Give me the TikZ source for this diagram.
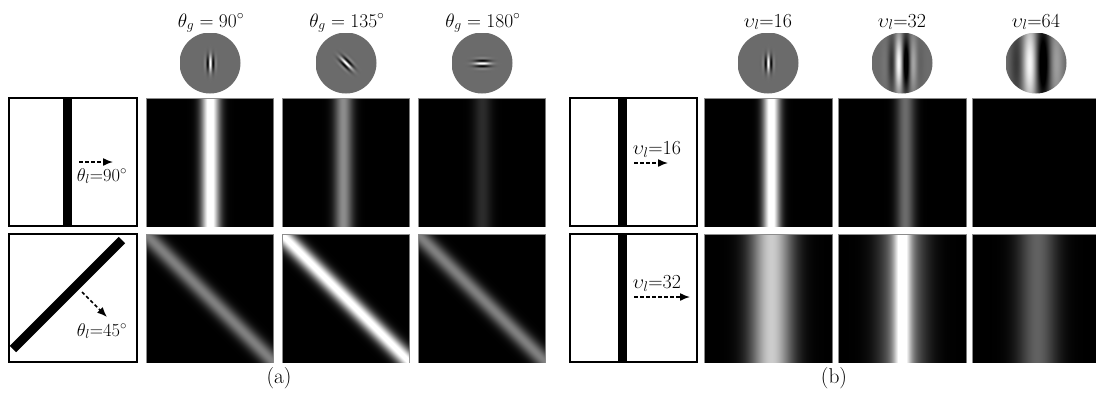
\RequirePackage{fix-cm}
\documentclass[tikz,border=0pt]{standalone}
\usepackage{fontspec}
\usetikzlibrary{arrows.meta}

% response to a vertical edge: name, width, height, centre, peak, sigma
\newcommand{\barshading}[6]{%
  \pgfdeclarefunctionalshading{#1}{\pgfpointorigin}{\pgfpoint{#2bp}{#3bp}}{}{%
    pop #4 sub dup mul 2 div #6 #6 mul div neg 2.71828 exch exp #5 mul dup dup}}
% response to the 45 degree edge: name, width, height, offset, peak, sigma
\newcommand{\diagshading}[6]{%
  \pgfdeclarefunctionalshading{#1}{\pgfpointorigin}{\pgfpoint{#2bp}{#3bp}}{}{%
    add #4 sub dup mul 4 div #6 #6 mul div neg 2.71828 exch exp #5 mul dup dup}}
% gabor kernel on grey: name, cos, sin, wavelength, sigma across, sigma along, carrier (sin/cos)
\newcommand{\gaborshading}[7]{%
  \pgfdeclarefunctionalshading{#1}{\pgfpoint{-31bp}{-31bp}}{\pgfpoint{31bp}{31bp}}{}{%
    2 copy #3 mul exch #2 mul add 3 1 roll #2 mul exch #3 mul sub
    dup mul 2 div #6 #6 mul div neg exch dup
    dup mul 2 div #5 #5 mul div neg 3 -1 roll add
    2.71828 exch exp exch 360 mul #4 div #7 mul 0.62 mul 0.42 add dup dup}}

\gaborshading{g90}{1}{0}{6}{3}{5.5}{cos}
\gaborshading{g135}{0.7071}{0.7071}{6}{3}{5.5}{cos}
\gaborshading{g180}{0}{1}{6}{3}{5.5}{cos}
\gaborshading{g32}{1}{0}{16}{8}{20}{sin neg}
\gaborshading{g64}{1}{0}{30}{14}{30}{sin neg}

\barshading{ra11}{127}{128}{64}{1.1}{6.5}
\barshading{ra12}{127}{128}{61}{0.55}{6.5}
\barshading{ra13}{127}{128}{64}{0.17}{6.5}
\diagshading{ra21}{127}{128}{127.5}{0.5}{6}
\diagshading{ra22}{127}{128}{127.5}{1.05}{6}
\diagshading{ra23}{127}{128}{127.5}{0.5}{6}

\barshading{rb11}{128}{128}{67}{1.1}{6}
\barshading{rb12}{128}{128}{67}{0.42}{6.5}
\barshading{rb13}{124}{128}{64}{0}{6}
\barshading{rb21}{128}{128}{67}{0.8}{15}
% two gaussians, bright core on wide shoulders
\pgfdeclarefunctionalshading{rb22}{\pgfpointorigin}{\pgfpoint{128bp}{128bp}}{}{%
  pop 64 sub dup mul dup 512 div neg 2.71828 exch exp 0.5 mul
  exch 72 div neg 2.71828 exch exp 0.65 mul add dup dup}
\barshading{rb23}{124}{128}{65}{0.38}{14}

\begin{document}
\begin{tikzpicture}[x=1bp,y=-1bp,font=\fontsize{18.5}{22}\selectfont]
  \tikzstyle{stim}=[draw=black,line width=2.4bp,fill=white]
  \tikzstyle{resp}=[inner sep=0pt,outer sep=0pt,anchor=north west,draw=black!45,line width=0.8bp]
  \tikzstyle{filter}=[circle,inner sep=0pt,minimum size=61bp]
  \tikzstyle{motion}=[line width=1.5bp,dash pattern=on 3.5bp off 2.5bp,-{Latex[length=10bp,width=8bp]}]
  \tikzstyle{head}=[anchor=base,font=\fontsize{19.5}{23}\selectfont]
  \tikzstyle{speed}=[font=\fontsize{20}{24}\selectfont]
  \tikzstyle{panel}=[font=\fontsize{21.5}{25}\selectfont]

  \useasboundingbox (0,0) rectangle (1096,394);

  % (a) orientation
  \node[head] (ta1) at (211,27) {$\theta_g = 90^\circ$};
  \node[head] (ta2) at (347,27) {$\theta_g = 135^\circ$};
  \node[head] (ta3) at (483,27) {$\theta_g = 180^\circ$};

  \node[filter,path picture={\node at (path picture bounding box.center) {\pgfuseshading{g90}};}]  (ga1) at (210,63) {};
  \node[filter,path picture={\node at (path picture bounding box.center) {\pgfuseshading{g135}};}] (ga2) at (346,63) {};
  \node[filter,path picture={\node at (path picture bounding box.center) {\pgfuseshading{g180}};}] (ga3) at (482,63) {};

  \draw[stim] (9,98) rectangle (137,226);
  \fill (63,98) rectangle (72,226);
  \node (la1) at (102,176) {$\theta_l$=90$^\circ$};
  \coordinate (ma1) at (79,162);
  \coordinate (ma1e) at (113,162);
  \draw[motion] (ma1) -- (ma1e);

  \draw[stim] (9,234) rectangle (137,362);
  \draw[line width=9bp] (13,349) -- (122,240);
  \node (la2) at (102,331) {$\theta_l$=45$^\circ$};
  \coordinate (ma2) at (82,292);
  \coordinate (ma2e) at (107,317);
  \draw[motion] (ma2) -- (ma2e);

  \node[resp] (ra11) at (146,98)  {\pgfuseshading{ra11}};
  \node[resp] (ra12) at (282,98)  {\pgfuseshading{ra12}};
  \node[resp] (ra13) at (418,98)  {\pgfuseshading{ra13}};
  \node[resp] (ra21) at (146,234) {\pgfuseshading{ra21}};
  \node[resp] (ra22) at (282,234) {\pgfuseshading{ra22}};
  \node[resp] (ra23) at (418,234) {\pgfuseshading{ra23}};

  \node[panel] (pa) at (279,378) {(a)};

  % (b) speed
  \node[speed,anchor=base] (tb1) at (768,27)  {$\upsilon_l$=16};
  \node[speed,anchor=base] (tb2) at (902,27)  {$\upsilon_l$=32};
  \node[speed,anchor=base] (tb3) at (1036,27) {$\upsilon_l$=64};

  \node[filter,path picture={\node at (path picture bounding box.center) {\pgfuseshading{g90}};}] (gb1) at (768,63) {};
  \node[filter,path picture={\node at (path picture bounding box.center) {\pgfuseshading{g32}};}] (gb2) at (902,63) {};
  \node[filter,path picture={\node at (path picture bounding box.center) {\pgfuseshading{g64}};}] (gb3) at (1036,63) {};

  \draw[stim] (570,98) rectangle (697,226);
  \fill (618,98) rectangle (627,226);
  \node[speed] (lb1) at (657,149) {$\upsilon_l$=16};
  \coordinate (mb1) at (634,163);
  \coordinate (mb1e) at (668,163);
  \draw[motion] (mb1) -- (mb1e);

  \draw[stim] (570,234) rectangle (697,362);
  \fill (618,234) rectangle (627,362);
  \node[speed] (lb2) at (657,283) {$\upsilon_l$=32};
  \coordinate (mb2) at (634,297);
  \coordinate (mb2e) at (690,297);
  \draw[motion] (mb2) -- (mb2e);

  \node[resp] (rb11) at (704,98)  {\pgfuseshading{rb11}};
  \node[resp] (rb12) at (838,98)  {\pgfuseshading{rb12}};
  \node[resp] (rb13) at (972,98)  {\pgfuseshading{rb13}};
  \node[resp] (rb21) at (704,234) {\pgfuseshading{rb21}};
  \node[resp] (rb22) at (838,234) {\pgfuseshading{rb22}};
  \node[resp] (rb23) at (972,234) {\pgfuseshading{rb23}};

  \node[panel] (pb) at (834,378) {(b)};
\end{tikzpicture}
\end{document}
